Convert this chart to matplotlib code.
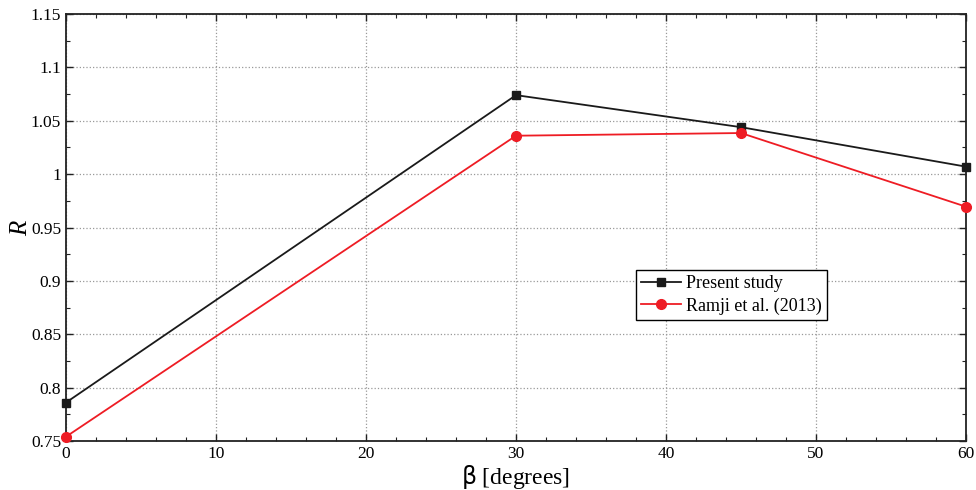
import matplotlib
matplotlib.use("Agg")
import matplotlib.pyplot as plt
import matplotlib.ticker as ticker

# データ
beta = [0, 30, 45, 60]
present_study = [0.786, 1.074, 1.044, 1.007]
ramji_2013 = [0.754, 1.036, 1.0385, 0.9695]

plt.rcParams['font.family'] = ['Liberation Serif', 'DejaVu Serif']
plt.rcParams['mathtext.fontset'] = 'custom'
plt.rcParams['mathtext.rm'] = 'Liberation Serif'
plt.rcParams['mathtext.it'] = 'Liberation Serif:italic'
plt.rcParams['mathtext.sf'] = 'DejaVu Sans'

fig = plt.figure(figsize=(9.76, 4.9), dpi=100)
ax = fig.add_axes([0.0676, 0.1, 0.9222, 0.8714])

ax.plot(beta, present_study, color='#1a1a1a', marker='s', markersize=6, lw=1.3,
        label='Present study', clip_on=False, zorder=3)
ax.plot(beta, ramji_2013, color='#ee1c24', marker='o', markersize=7, lw=1.3,
        label='Ramji et al. (2013)', clip_on=False, zorder=3)

ax.set_xlim(0, 60)
ax.set_ylim(0.75, 1.15)
ax.xaxis.set_major_locator(ticker.MultipleLocator(10))
ax.xaxis.set_minor_locator(ticker.MultipleLocator(2))
ax.yaxis.set_major_locator(ticker.MultipleLocator(0.05))
ax.yaxis.set_minor_locator(ticker.MultipleLocator(0.025))
ax.yaxis.set_major_formatter(ticker.FuncFormatter(lambda v, p: ('%.3f' % v).rstrip('0').rstrip('.')))

ax.tick_params(which='both', direction='in', top=True, right=True, labelsize=12.5, color='#222222')
ax.tick_params(which='major', length=5, width=1)
ax.tick_params(which='minor', length=3, width=0.8)
for s in ax.spines.values():
    s.set_linewidth(1.3)
    s.set_color('#222222')

ax.grid(True, which='major', linestyle=':', color='#999999', linewidth=0.9)

ax.set_xlabel(r'$\mathsf{β}$ [degrees]', fontsize=17, labelpad=1)
ax.set_ylabel('$R$', fontsize=18, labelpad=-1)

leg = ax.legend(loc='lower left', bbox_to_anchor=(0.633, 0.283), fontsize=13,
                fancybox=False, framealpha=1, edgecolor='black', borderpad=0.3,
                handlelength=2.2, handletextpad=0.3, labelspacing=0.3, borderaxespad=0)
leg.get_frame().set_linewidth(1.0)

fig.savefig('out.png', dpi=100)
